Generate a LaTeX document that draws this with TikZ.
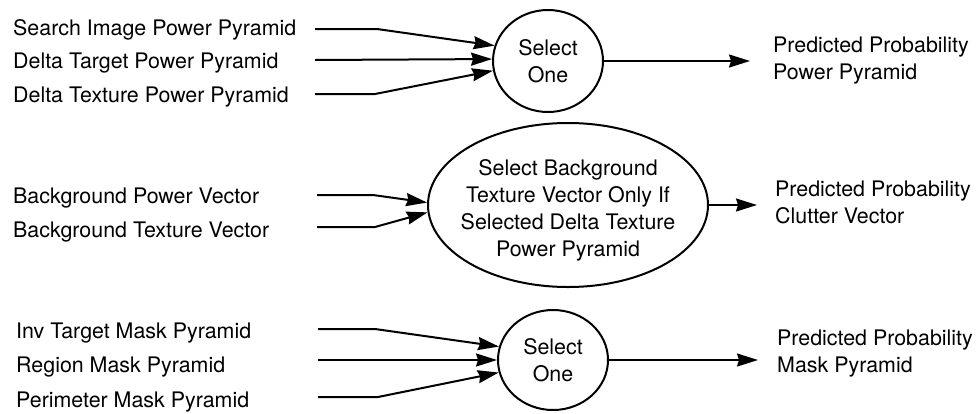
\documentclass[tikz,border=0pt]{standalone}
\usepackage{fontspec}
\setmainfont{TeX Gyre Heros}
\usetikzlibrary{arrows.meta,shapes.geometric}
\begin{document}
\begin{tikzpicture}[x=1pt,y=-1pt,
  txt/.style={inner sep=0pt, font=\fontsize{21.4}{27}\selectfont},
  lbl/.style={txt, anchor=west},
  outlbl/.style={txt, anchor=west, align=left},
  wire/.style={line width=2pt},
  sel/.style={ellipse, draw, wire, inner sep=0pt},
  arr/.style={wire, -{Stealth[length=21pt,width=13pt,inset=2pt]}}]
\useasboundingbox (0,0) rectangle (979,413);

% ---- power pyramid selection ----
\node[lbl] (in1) at (13,30) {Search Image Power Pyramid};
\node[lbl] (in2) at (13,63) {Delta Target Power Pyramid};
\node[lbl] (in3) at (13,97) {Delta Texture Power Pyramid};
\coordinate (s1) at (315,29);
\coordinate (s2) at (315,60);
\coordinate (s3) at (315,94);
\node[sel, minimum width=110pt, minimum height=102pt, align=center, txt] (one1) at (548,61) {Select\\One};
\node[outlbl] (out1) at (773,60.5) {Predicted Probability\\Power Pyramid};
\draw[arr] (s1) -- ++(62,0) -- (one1.164);
\draw[arr] (s2) -- (one1.178);
\draw[arr] (s3) -- ++(60,0) -- (one1.190.5);
\draw[arr, shorten >=23pt] (one1.east) -- (one1.east -| out1.west);

% ---- clutter vector selection ----
\node[lbl] (in4) at (13,198) {Background Power Vector};
\node[lbl] (in5) at (13,232) {Background Texture Vector};
\coordinate (s4) at (317,195);
\coordinate (s5) at (317,227);
\node[sel, minimum width=280pt, minimum height=164pt] (mid) at (568,205) {};
\node[txt, align=center] (midtxt) at (568,210) {Select Background\\Texture Vector Only If\\Selected Delta Texture\\Power Pyramid};
\node[outlbl] (out2) at (775,202) {Predicted Probability\\Clutter Vector};
\draw[arr] (s4) -- ++(56,0) -- (mid.179);
\draw[arr] (s5) -- ++(58,0) -- (mid.183.5);
\draw[arr, shorten >=18pt] (mid.east) -- (mid.east -| out2.west);

% ---- mask pyramid selection ----
\node[lbl] (in6) at (16,333) {Inv Target Mask Pyramid};
\node[lbl] (in7) at (16,367) {Region Mask Pyramid};
\node[lbl] (in8) at (16,402) {Perimeter Mask Pyramid};
\coordinate (s6) at (318,329);
\coordinate (s7) at (318,360);
\coordinate (s8) at (318,397);
\node[sel, minimum width=110pt, minimum height=100pt, align=center, txt] (one3) at (553,360) {Select\\One};
\node[outlbl] (out3) at (777,353.5) {Predicted Probability\\Mask Pyramid};
\draw[arr] (s6) -- ++(57,0) -- (one3.166.7);
\draw[arr] (s7) -- (one3.180);
\draw[arr] (s8) -- ++(60,0) -- (one3.193.3);
\draw[arr, shorten >=19pt] (one3.east) -- (one3.east -| out3.west);
\end{tikzpicture}
\end{document}
